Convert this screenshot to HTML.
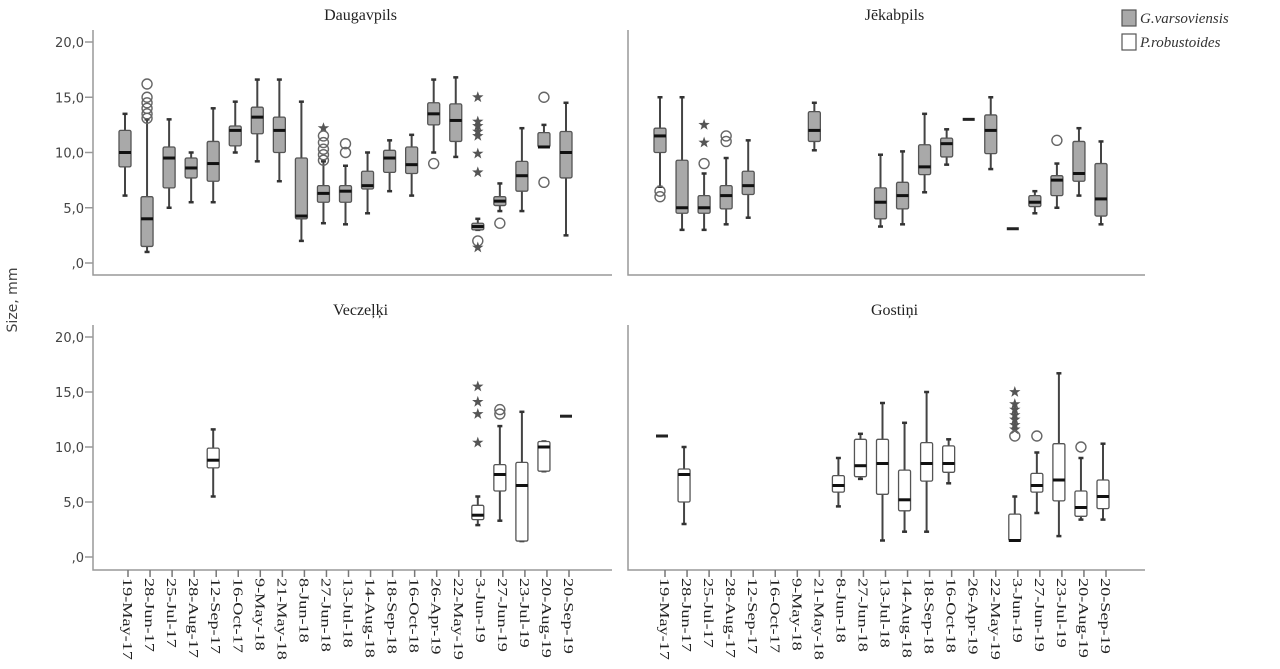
<!DOCTYPE html>
<html><head><meta charset="utf-8">
<style>
html,body{margin:0;padding:0;background:#fff;}
svg{display:block;}
</style></head>
<body>
<svg id="chart" width="1280" height="669" viewBox="0 0 1280 669" xmlns="http://www.w3.org/2000/svg"></svg>
<script>
const categories = ["19-May-17","28-Jun-17","25-Jul-17","28-Aug-17","12-Sep-17","16-Oct-17","9-May-18","21-May-18","8-Jun-18","27-Jun-18","13-Jul-18","14-Aug-18","18-Sep-18","16-Oct-18","26-Apr-19","22-May-19","3-Jun-19","27-Jun-19","23-Jul-19","20-Aug-19","20-Sep-19"];
const yTicks = [0,5,10,15,20];
const yTickLabels = [",0","5,0","10,0","15,0","20,0"];
// rows: [categoryIndex, lowWhisker, q1, median, q3, highWhisker]
const daugavpilsBoxes = [
 [0,6.1,8.7,10.0,12.0,13.5],[1,1.0,1.5,4.0,6.0,13.0],[2,5.0,6.8,9.5,10.5,13.0],[3,5.5,7.7,8.6,9.5,10.0],
 [4,5.5,7.4,9.0,11.0,14.0],[5,10.0,10.6,12.0,12.4,14.6],[6,9.2,11.7,13.2,14.1,16.6],[7,7.4,10.0,12.0,13.2,16.6],
 [8,2.0,4.0,4.25,9.5,14.6],[9,3.6,5.5,6.3,7.0,9.2],[10,3.5,5.5,6.5,7.0,8.8],[11,4.5,6.7,7.0,8.3,10.0],
 [12,6.5,8.2,9.5,10.2,11.1],[13,6.1,8.1,8.9,10.5,11.6],[14,10.0,12.5,13.5,14.5,16.6],[15,9.6,11.0,12.9,14.4,16.8],
 [16,3.0,3.0,3.3,3.6,4.0],[17,4.7,5.2,5.6,6.0,7.2],[18,4.7,6.5,7.9,9.2,12.2],[19,10.5,10.5,10.5,11.8,12.5],
 [20,2.5,7.7,10.0,11.9,14.5]];
// rows: [categoryIndex, value, type] type: "o" circle, "s" star
const daugavpilsOutliers = [
 [1,16.2,"o"],[1,15.0,"o"],[1,14.5,"o"],[1,14.0,"o"],[1,13.5,"o"],[1,13.1,"o"],
 [9,12.2,"s"],[9,11.5,"o"],[9,10.9,"o"],[9,10.3,"o"],[9,9.8,"o"],[9,9.3,"o"],
 [10,10.8,"o"],[10,10.0,"o"],[14,9.0,"o"],
 [16,15.0,"s"],[16,12.8,"s"],[16,12.4,"s"],[16,11.9,"s"],[16,11.5,"s"],[16,9.9,"s"],[16,8.2,"s"],[16,2.0,"o"],[16,1.4,"s"],
 [17,3.6,"o"],[19,15.0,"o"],[19,7.3,"o"]];
const jekabpilsBoxes = [
 [0,6.9,10.0,11.5,12.2,15.0],[1,3.0,4.5,5.0,9.3,15.0],[2,3.0,4.5,5.0,6.1,8.1],[3,3.5,4.9,6.1,7.0,9.5],
 [4,4.1,6.2,7.0,8.3,11.1],[7,10.2,11.0,12.0,13.7,14.5],[10,3.3,4.0,5.5,6.8,9.8],[11,3.5,4.9,6.1,7.3,10.1],
 [12,6.4,8.0,8.7,10.7,13.5],[13,8.9,9.6,10.8,11.3,12.1],[14,13.0,13.0,13.0,13.0,13.0],[15,8.5,9.9,12.0,13.4,15.0],
 [16,3.1,3.1,3.1,3.1,3.1],[17,4.5,5.1,5.5,6.1,6.5],[18,5.0,6.1,7.5,7.9,9.0],[19,6.1,7.4,8.1,11.0,12.2],
 [20,3.5,4.25,5.8,9.0,11.0]];
const jekabpilsOutliers = [
 [0,6.5,"o"],[0,6.0,"o"],[2,12.5,"s"],[2,10.9,"s"],[2,9.0,"o"],[3,11.5,"o"],[3,11.0,"o"],[18,11.1,"o"]];
const veczelkiBoxes = [
 [4,5.5,8.1,8.8,9.9,11.6],[16,2.9,3.4,3.8,4.7,5.5],[17,3.3,6.0,7.5,8.4,11.9],[18,1.45,1.45,6.5,8.6,13.2],
 [19,7.8,7.8,10.0,10.5,10.5],[20,12.8,12.8,12.8,12.8,12.8]];
const veczelkiOutliers = [
 [16,15.5,"s"],[16,14.1,"s"],[16,13.0,"s"],[16,10.4,"s"],[17,13.4,"o"],[17,13.0,"o"]];
const gostiniBoxes = [
 [0,11.0,11.0,11.0,11.0,11.0],[1,3.0,5.0,7.5,8.0,10.0],[8,4.6,5.9,6.5,7.4,9.0],[9,7.1,7.3,8.3,10.7,11.2],
 [10,1.5,5.7,8.5,10.7,14.0],[11,2.3,4.2,5.2,7.9,12.2],[12,2.3,6.9,8.5,10.4,15.0],[13,6.7,7.7,8.5,10.1,10.7],
 [16,1.5,1.5,1.5,3.9,5.5],[17,4.0,5.9,6.5,7.6,9.5],[18,1.9,5.1,7.0,10.3,16.7],[19,3.4,3.7,4.5,6.0,9.0],
 [20,3.4,4.4,5.5,7.0,10.3]];
const gostiniOutliers = [
 [16,15.0,"s"],[16,13.9,"s"],[16,13.4,"s"],[16,12.9,"s"],[16,12.5,"s"],[16,12.0,"s"],[16,11.6,"s"],[16,11.0,"o"],
 [17,11.0,"o"],[19,10.0,"o"]];
const panelTitles = ["Daugavpils","Jēkabpils","Veczeļķi","Gostiņi"];

const NS = "http://www.w3.org/2000/svg";
const svg = document.getElementById("chart");
function mk(tag, attrs, parent){
  const e = document.createElementNS(NS, tag);
  for (const k in attrs) e.setAttribute(k, attrs[k]);
  (parent||svg).appendChild(e);
  return e;
}
const panels = [
 {x0:93,x1:612,yTop:30,yBot:275,y0:263,y20:42,first:125,step:22.05,title:panelTitles[0],boxes:daugavpilsBoxes,out:daugavpilsOutliers,fill:"#a9a9a9",axisLabels:true,xLabels:false,id:"daugavpils"},
 {x0:628,x1:1145,yTop:30,yBot:275,y0:263,y20:42,first:660,step:22.05,title:panelTitles[1],boxes:jekabpilsBoxes,out:jekabpilsOutliers,fill:"#a9a9a9",axisLabels:false,xLabels:false,id:"jekabpils"},
 {x0:93,x1:612,yTop:325,yBot:570,y0:557,y20:337,first:125,step:22.05,title:panelTitles[2],boxes:veczelkiBoxes,out:veczelkiOutliers,fill:null,axisLabels:true,xLabels:true,id:"veczelki"},
 {x0:628,x1:1145,yTop:325,yBot:570,y0:557,y20:337,first:662,step:22.05,title:panelTitles[3],boxes:gostiniBoxes,out:gostiniOutliers,fill:null,axisLabels:false,xLabels:true,id:"gostini"}
];

function star(g, cx, cy, r){
  let pts = [];
  for (let i=0;i<10;i++){
    const a = -Math.PI/2 + i*Math.PI/5;
    const rr = i%2===0 ? r : r*0.4;
    pts.push((cx+rr*Math.cos(a)).toFixed(1)+","+(cy+rr*Math.sin(a)).toFixed(1));
  }
  return mk("polygon",{points:pts.join(" "),fill:"#555",stroke:"none"},g);
}

panels.forEach(p=>{
  const ys = v => p.y0 - v*(p.y0-p.y20)/20;
  const xs = i => p.first + i*p.step;
  const g = mk("g",{});
  
  
  const ax = mk("path",{d:`M${p.x0},${p.yTop} V${p.yBot} H${p.x1}`,fill:"none",stroke:"#999","stroke-width":1.5},g);
  
  
  const t = mk("text",{x:(p.x0+p.x1)/2+8,y:p.yTop-10,"text-anchor":"middle","font-family":"Liberation Serif, serif","font-size":16,fill:"#222"},g);
  t.textContent = p.title;
  
  
  if (p.axisLabels){
    yTicks.forEach((v,k)=>{
      mk("line",{x1:p.x0-8,x2:p.x0,y1:ys(v),y2:ys(v),stroke:"#999","stroke-width":1.5},g);
      const tl = mk("text",{x:p.x0-9,y:ys(v)+5,"text-anchor":"end","font-family":"DejaVu Sans, sans-serif","font-size":13,fill:"#444"},g);
      tl.textContent = yTickLabels[k];
      
      
    });
  }
  if (p.xLabels){
    categories.forEach((c,i)=>{
      mk("line",{x1:xs(i)+3,x2:xs(i)+3,y1:p.yBot,y2:p.yBot+7,stroke:"#777","stroke-width":1.5},g);
      const xl = mk("text",{transform:`translate(${xs(i)-2},${p.yBot+8}) rotate(90) scale(1.35,1)`,"font-family":"Liberation Serif, serif","font-size":13.5,fill:"#222"},g);
      xl.textContent = c;
      
      
    });
  }
  const hw = 6;
  p.boxes.forEach(b=>{
    const [i,lo,q1,md,q3,hi] = b;
    const x = xs(i);
    const bg = mk("g",{},g);
    
    
    if (hi-lo < 0.05){
      mk("line",{x1:x-6,x2:x+6,y1:ys(md),y2:ys(md),stroke:"#222","stroke-width":3},bg);
      return;
    }
    mk("line",{x1:x,x2:x,y1:ys(hi),y2:ys(q3),stroke:"#444","stroke-width":2},bg);
    mk("line",{x1:x,x2:x,y1:ys(q1),y2:ys(lo),stroke:"#444","stroke-width":2},bg);
    mk("line",{x1:x-2.5,x2:x+2.5,y1:ys(hi),y2:ys(hi),stroke:"#333","stroke-width":2.5},bg);
    mk("line",{x1:x-2.5,x2:x+2.5,y1:ys(lo),y2:ys(lo),stroke:"#333","stroke-width":2.5},bg);
    mk("rect",{x:x-hw,y:ys(q3),width:hw*2,height:Math.max(1,ys(q1)-ys(q3)),rx:1.5,fill:p.fill||"#fff",stroke:"#555","stroke-width":1.3},bg);
    mk("line",{x1:x-hw,x2:x+hw,y1:ys(md),y2:ys(md),stroke:"#111","stroke-width":3},bg);
  });
  p.out.forEach(o=>{
    const [i,v,type] = o;
    let e;
    if (type==="o") e = mk("circle",{cx:xs(i),cy:ys(v),r:5,fill:"none",stroke:"#666","stroke-width":1.4},g);
    else e = star(g,xs(i),ys(v),6);
    
    
  });
});

const yt = mk("text",{transform:"translate(17,300) rotate(-90)","text-anchor":"middle","font-family":"DejaVu Sans, sans-serif","font-size":14,fill:"#444"});
yt.textContent = "Size, mm";



const lg = mk("g",{});


const legendItems = [["G.varsoviensis","#a9a9a9"],["P.robustoides","#fff"]];
legendItems.forEach((it,k)=>{
  const y = 10 + k*24;
  const le = mk("g",{},lg);
  
  
  mk("rect",{x:1122,y:y,width:14,height:16,fill:it[1],stroke:"#555","stroke-width":1.2},le);
  const tx = mk("text",{x:1140,y:y+13,"font-family":"Liberation Serif, serif","font-style":"italic","font-size":15,fill:"#333"},le);
  tx.textContent = it[0];
});
</script>
</body></html>
